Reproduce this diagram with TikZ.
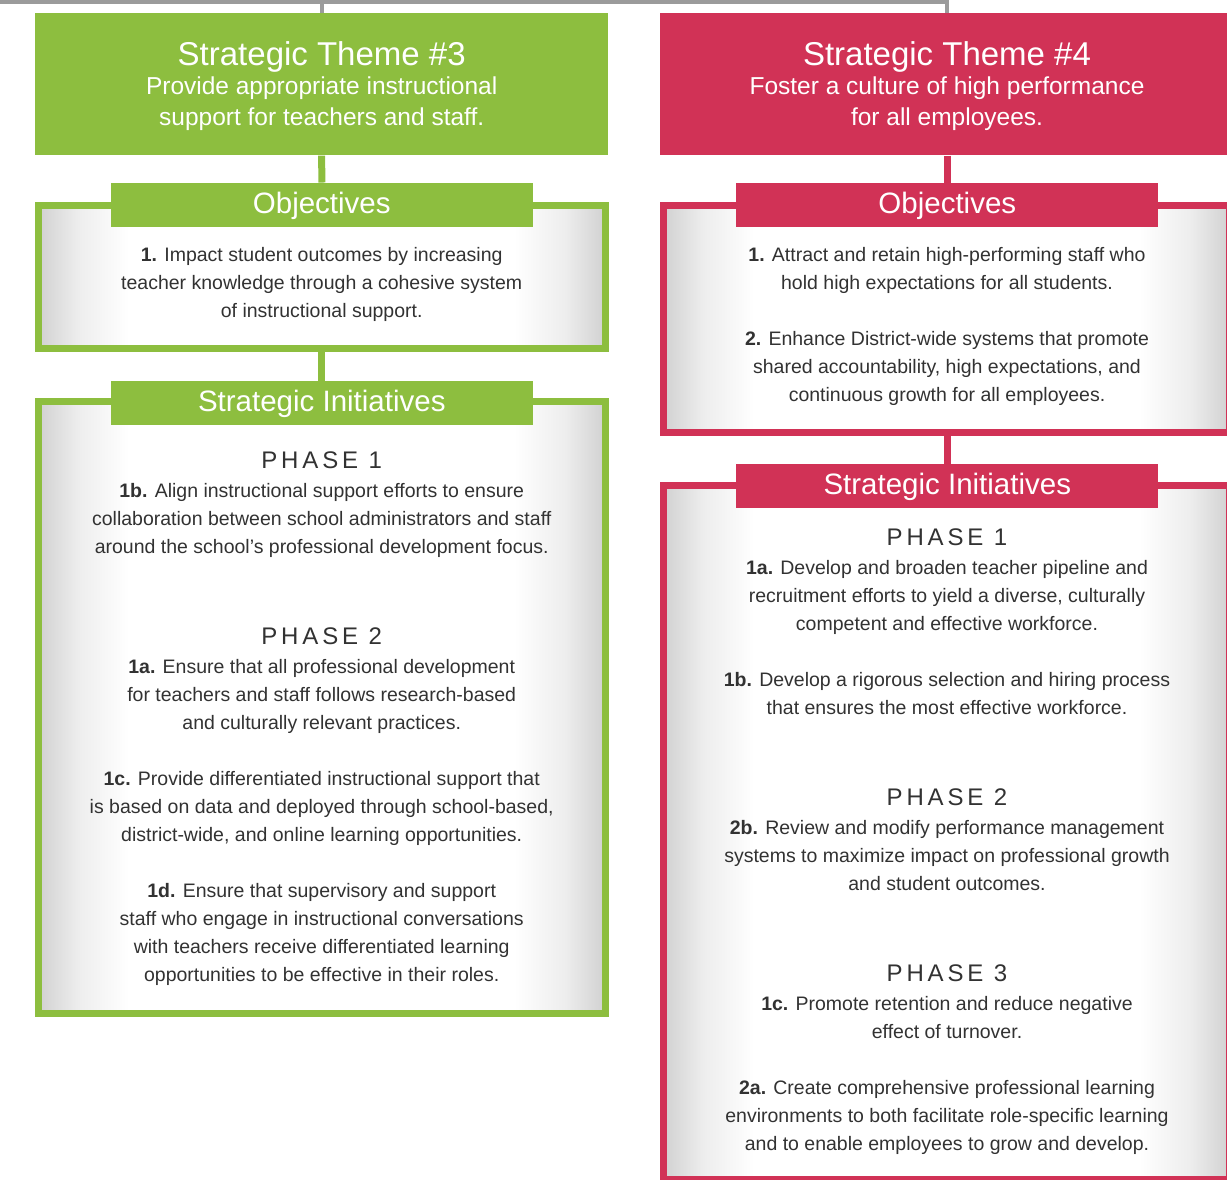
\documentclass[tikz,border=0pt]{standalone}
\usepackage{fontspec}
\setmainfont{Liberation Sans}
\definecolor{themegreen}{RGB}{141,190,63}
\definecolor{themered}{RGB}{209,50,86}
\definecolor{feedgray}{RGB}{155,155,155}
\definecolor{bodytext}{RGB}{50,50,50}
\pgfdeclarehorizontalshading{panelshade}{100bp}{color(0bp)=(black!18); color(25bp)=(black!18); color(28.5bp)=(black!7); color(33bp)=(white); color(67bp)=(white); color(71.5bp)=(black!7); color(75bp)=(black!18); color(100bp)=(black!18)}

\begin{document}
\begin{tikzpicture}[x=1pt, y=-1pt,
    themebox/.style={fill=#1, minimum width=573pt, minimum height=142pt, inner sep=0pt},
    tab/.style={fill=#1, text=white, minimum width=422pt, minimum height=44pt, inner sep=0pt,
        text height=22pt, text depth=4.8pt, font=\fontsize{29.5}{30}\selectfont},
    panel/.style={draw=#1, line width=7pt, shade, shading=panelshade, inner sep=0pt},
    link/.style={draw=#1, line width=7pt},
    feed/.style={draw=feedgray, line width=4pt},
    title/.style={text=white, anchor=base, inner sep=0pt, font=\fontsize{33}{36}\selectfont},
    subtitle/.style={text=white, anchor=north, align=center, inner sep=0pt,
        font=\fontsize{24.5}{30.5}\selectfont, execute at begin node=\strut},
    phase/.style={text=bodytext, anchor=base, inner sep=0pt,
        font=\fontsize{24}{28}\selectfont\addfontfeature{LetterSpace=16}},
    body/.style={text=bodytext, anchor=north, align=center, inner sep=0pt,
        font=\fontsize{19.5}{28}\selectfont, execute at begin node=\strut}]
    \clip (0,0) rectangle (1227,1179);

    \node[themebox=themegreen] (theme3) at (321.7,84.4) {};
    \node[themebox=themered, minimum width=574pt] (theme4) at (947,84.4) {};
    \node[title] (t3head) at (321.7,65) {Strategic Theme \#3};
    \node[subtitle] (t3text) at (321.7,77) {Provide appropriate instructional\\support for teachers and staff.};
    \node[title] (t4head) at (947,65) {Strategic Theme \#4};
    \node[subtitle] (t4text) at (947,77) {Foster a culture of high performance\\for all employees.};

    \coordinate (feedstart) at (0,1.5);
    \draw[feed] (feedstart) -| (theme4.north);
    \draw[feed] (theme3.north) -- (theme3.north |- feedstart);

    \node[panel=themegreen, minimum width=566.6pt, minimum height=143.3pt] (obj3) at (321.7,276.7) {};
    \node[panel=themegreen, minimum width=566.6pt, minimum height=611.6pt] (init3) at (321.7,707.5) {};
    \node[panel=themered, minimum width=566.2pt, minimum height=227.6pt] (obj4) at (946.5,318.8) {};
    \node[panel=themered, minimum width=566.2pt, minimum height=694.6pt] (init4) at (946.5,832.3) {};

    \node[tab=themegreen] (obj3tab) at (321.8,204.7) {Objectives};
    \node[tab=themegreen] (init3tab) at (321.8,403) {Strategic Initiatives};
    \node[tab=themered] (obj4tab) at (947.3,204.7) {Objectives};
    \node[tab=themered] (init4tab) at (947.3,486) {Strategic Initiatives};

    \draw[link=themegreen] (theme3.south) -- (obj3tab.north);
    \draw[link=themegreen] (obj3.south -| obj3tab.north) -- (init3tab.north);
    \draw[link=themered] (theme4.south -| obj4tab.north) -- (obj4tab.north);
    \draw[link=themered] (obj4.south -| obj4tab.north) -- (init4tab.north);

    \node[body] (o3one) at (321.7,247.4) {\textbf{1.} Impact student outcomes by increasing\\teacher knowledge through a cohesive system\\of instructional support.};
    \node[phase] (p3one) at (321.7,468.5) {PHASE 1};
    \node[body] (i3b) at (321.7,483.4) {\textbf{1b.} Align instructional support efforts to ensure\\collaboration between school administrators and staff\\around the school’s professional development focus.};
    \node[phase] (p3two) at (321.7,644.5) {PHASE 2};
    \node[body] (i3a) at (321.7,659.4) {\textbf{1a.} Ensure that all professional development\\for teachers and staff follows research-based\\and culturally relevant practices.};
    \node[body] (i3c) at (321.7,771.4) {\textbf{1c.} Provide differentiated instructional support that\\is based on data and deployed through school-based,\\district-wide, and online learning opportunities.};
    \node[body] (i3d) at (321.7,883.4) {\textbf{1d.} Ensure that supervisory and support\\staff who engage in instructional conversations\\with teachers receive differentiated learning\\opportunities to be effective in their roles.};

    \node[body] (o4one) at (947,247.4) {\textbf{1.} Attract and retain high-performing staff who\\hold high expectations for all students.};
    \node[body] (o4two) at (947,331.4) {\textbf{2.} Enhance District-wide systems that promote\\shared accountability, high expectations, and\\continuous growth for all employees.};
    \node[phase] (p4one) at (947,545.5) {PHASE 1};
    \node[body] (i4a) at (947,560.4) {\textbf{1a.} Develop and broaden teacher pipeline and\\recruitment efforts to yield a diverse, culturally\\competent and effective workforce.};
    \node[body] (i4b) at (947,672.4) {\textbf{1b.} Develop a rigorous selection and hiring process\\that ensures the most effective workforce.};
    \node[phase] (p4two) at (947,805.5) {PHASE 2};
    \node[body] (i4bb) at (947,820.4) {\textbf{2b.} Review and modify performance management\\systems to maximize impact on professional growth\\and student outcomes.};
    \node[phase] (p4three) at (947,981.5) {PHASE 3};
    \node[body] (i4c) at (947,996.4) {\textbf{1c.} Promote retention and reduce negative\\effect of turnover.};
    \node[body] (i4aa) at (947,1080.4) {\textbf{2a.} Create comprehensive professional learning\\environments to both facilitate role-specific learning\\and to enable employees to grow and develop.};
\end{tikzpicture}
\end{document}
